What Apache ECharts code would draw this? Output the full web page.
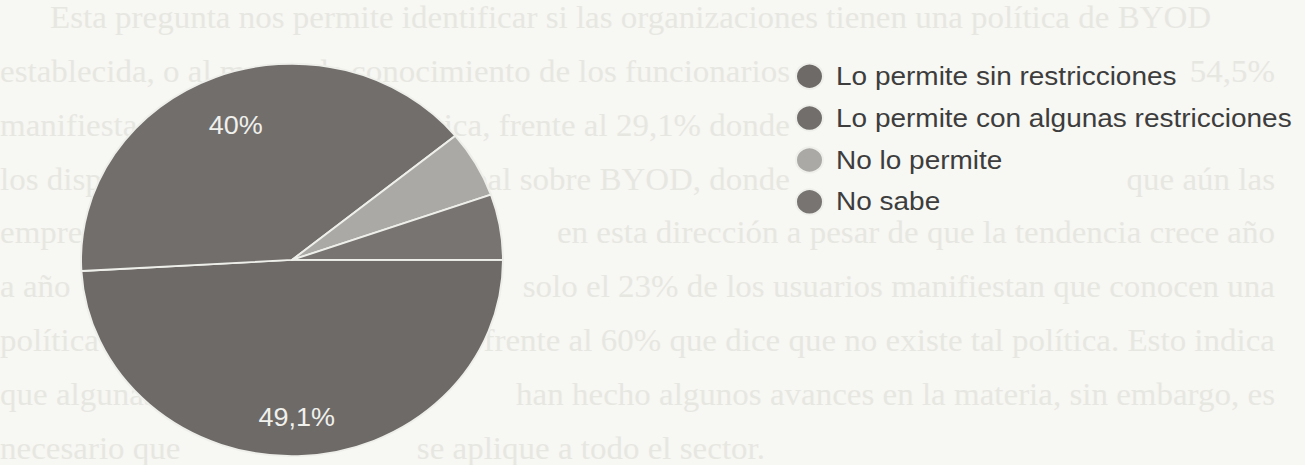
<!DOCTYPE html>
<html>
<head>
<meta charset="utf-8">
<script src="https://cdn.jsdelivr.net/npm/echarts@6/dist/echarts.min.js"></script>
<style>
  html, body { margin: 0; padding: 0; background: #f7f7f3; overflow: hidden; }
  #wrap { width: 1305px; height: 465px; overflow: hidden; }
  /* the printed figure is slightly flattened vertically */
  #chart { width: 1305px; height: 500px; transform: scaleY(0.93); transform-origin: 0 0; }
</style>
</head>
<body>
<div id="wrap"><div id="chart"></div></div>
<script>
// Survey answers: does the organisation allow BYOD?
const categories = [
  'Lo permite sin restricciones',
  'Lo permite con algunas restricciones',
  'No lo permite',
  'No sabe'
];
const shares = [49.1, 40, 5.5, 5.4];
const sliceColors = ['#6d6a68', '#716e6c', '#aaa9a6', '#777472'];
const labelledSlices = [true, true, false, false];

// faint paragraph printed behind the figure (left part / right parts of each line)
const paragraphLeft = [
  'Esta pregunta nos permite identificar si las organizaciones tienen una política de BYOD',
  'establecida, o al menos',
  'manifiesta',
  'los dispositivos',
  'empresas',
  'a año',
  'política',
  'que algunas',
  'necesario que'
];
const paragraphMid = [
  '',
  'de conocimiento de los funcionarios',
  'política, frente al 29,1% donde',
  'global sobre BYOD, donde',
  '', '', '', '',
  'se aplique a todo el sector.'
];
const paragraphRight = [
  '',
  '54,5%',
  '',
  'que aún las',
  'en esta dirección a pesar de que la tendencia crece año',
  'solo el 23% de los usuarios manifiestan que conocen una',
  'frente al 60% que dice que no existe tal política. Esto indica',
  'han hecho algunos avances en la materia, sin embargo, es',
  ''
];

const SY = 0.93;
const BG = '#f7f7f3';
const CENTER = [292, 279.5];
const LABEL_RADIUS = [0.78, 0.716];

const leftX = [50, 0, 0, 0, 0, 0, 0, 0, 0];
const midEnd = [0, 790, 790, 790, 0, 0, 0, 0, 765];
const RIGHT_END = 1275;
const lineY = i => (18 + 53.8 * i) / SY;

const faint = { font: '33px "Liberation Serif"', fill: '#e7e7e2' };
const graphics = [];
function addText(t, x, y, align) {
  graphics.push({ type: 'text', z: 0, x: x, y: y,
    style: Object.assign({ text: t, textAlign: align, textVerticalAlign: 'middle' }, faint) });
}
paragraphLeft.forEach((t, i) => {
  addText(t, leftX[i], lineY(i), 'left');
  if (paragraphMid[i]) addText(paragraphMid[i], midEnd[i], lineY(i), 'right');
  if (paragraphRight[i]) addText(paragraphRight[i], RIGHT_END, lineY(i), 'right');
});

const chart = echarts.init(document.getElementById('chart'), null, { renderer: 'svg' });
chart.setOption({
  backgroundColor: BG,
  animation: false,
  graphic: graphics,
  legend: {
    orient: 'vertical',
    left: 795,
    top: 67,
    icon: 'circle',
    itemWidth: 27,
    itemHeight: 27,
    itemGap: 15,
    selectedMode: false,
    padding: 0,
    textStyle: {
      fontFamily: '"Liberation Sans", Arial, sans-serif',
      fontSize: 28,
      lineHeight: 30,
      color: '#3d3d3d',
      backgroundColor: BG,
      padding: [0, 6, 0, 8]
    },
    data: categories
  },
  series: [{
    type: 'pie',
    center: CENTER,
    radius: 211,
    startAngle: 0,
    clockwise: true,
    avoidLabelOverlap: false,
    silent: true,
    itemStyle: { borderColor: '#eeeeea', borderWidth: 2 },
    label: {
      show: true,
      position: 'inside',
      fontFamily: '"Liberation Sans", Arial, sans-serif',
      fontSize: 27,
      color: '#f0f0ec',
      formatter: p => String(p.value).replace('.', ',') + '%'
    },
    labelLine: { show: false },
    labelLayout: function (p) {
      const ratio = LABEL_RADIUS[p.dataIndex];
      if (ratio == null || !p.labelRect) return {};
      const k = ratio / 0.5;
      const lx = p.labelRect.x + p.labelRect.width / 2;
      const ly = p.labelRect.y + p.labelRect.height / 2;
      return {
        x: CENTER[0] + (lx - CENTER[0]) * k,
        y: CENTER[1] + (ly - CENTER[1]) * k,
        align: 'center',
        verticalAlign: 'middle'
      };
    },
    emphasis: { disabled: true },
    data: categories.map((name, i) => ({
      name: name,
      value: shares[i],
      itemStyle: { color: sliceColors[i] },
      label: { show: labelledSlices[i] }
    }))
  }]
});
</script>
</body>
</html>
